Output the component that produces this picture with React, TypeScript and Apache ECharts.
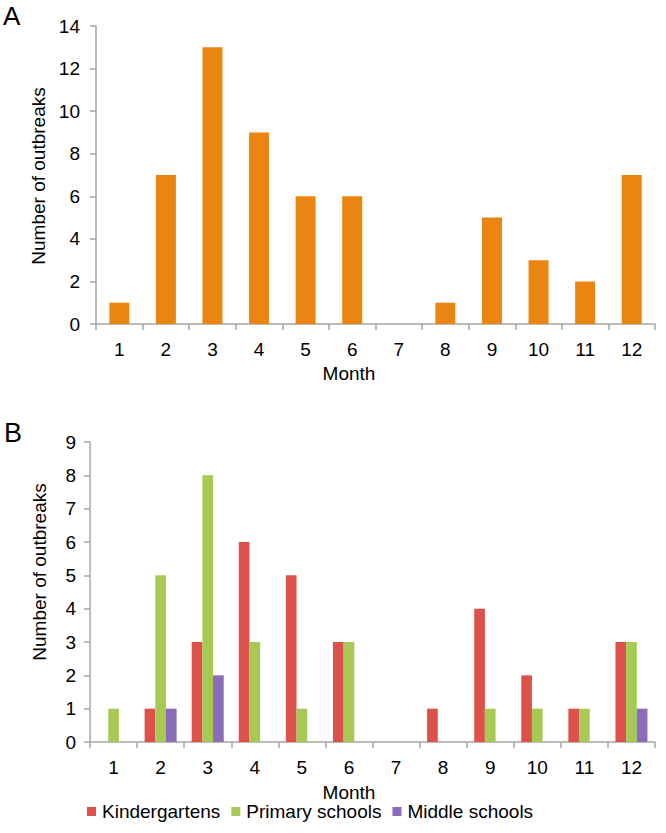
import React, { useEffect, useRef } from "react";
import * as echarts from "echarts";

const months = ["1", "2", "3", "4", "5", "6", "7", "8", "9", "10", "11", "12"];
const totalOutbreaks = [1, 7, 13, 9, 6, 6, 0, 1, 5, 3, 2, 7];
const kindergartens = [0, 1, 3, 6, 5, 3, 0, 1, 4, 2, 1, 3];
const primarySchools = [1, 5, 8, 3, 1, 3, 0, 0, 1, 1, 1, 3];
const middleSchools = [0, 1, 2, 0, 0, 0, 0, 0, 0, 0, 0, 1];
const yTitle = "Number of outbreaks";
const xTitle = "Month";

const FONT = "'Liberation Sans', Arial, sans-serif";
const AXIS_COLOR = "#A6A6A6";

export default function App() {
  const ref = useRef<HTMLDivElement>(null);
  useEffect(() => {
    if (!ref.current) return;
    const chart = echarts.init(ref.current, null, { renderer: "svg" });
    const xAxisCommon = {
      type: "category",
      data: months,
      boundaryGap: true,
      axisLine: { lineStyle: { color: AXIS_COLOR, width: 1.5 } },
      axisTick: { show: true, length: 6, lineStyle: { color: AXIS_COLOR, width: 1.5 } },
      splitLine: { show: false },
    };
    const yAxisCommon = {
      type: "value",
      min: 0,
      axisLine: { show: true, lineStyle: { color: AXIS_COLOR, width: 1.5 } },
      axisTick: { show: true, length: 6, lineStyle: { color: AXIS_COLOR, width: 1.5 } },
      splitLine: { show: false },
    };
    const textStyle = (size: number) => ({ fontFamily: FONT, fontSize: size, fill: "#000" });
    chart.setOption({
      animation: false,
      backgroundColor: "#fff",
      textStyle: { fontFamily: FONT },
      grid: [
        { left: 96, right: 11, top: 26, height: 298 },
        { left: 90, right: 11, top: 442, height: 300 },
      ],
      xAxis: [
        {
          ...xAxisCommon,
          gridIndex: 0,
          axisLabel: { fontSize: 19, color: "#000", margin: 16, fontFamily: FONT },
        },
        {
          ...xAxisCommon,
          gridIndex: 1,
          axisLabel: { fontSize: 19, color: "#000", margin: 16, fontFamily: FONT },
        },
      ],
      yAxis: [
        {
          ...yAxisCommon,
          gridIndex: 0,
          max: 14,
          interval: 2,
          axisLabel: { fontSize: 19, color: "#000", margin: 16, fontFamily: FONT },
        },
        {
          ...yAxisCommon,
          gridIndex: 1,
          max: 9,
          interval: 1,
          axisLabel: { fontSize: 19, color: "#000", margin: 14, fontFamily: FONT },
        },
      ],
      legend: {
        left: 87,
        top: 802,
        padding: 0,
        icon: "rect",
        itemWidth: 9,
        itemHeight: 9,
        itemGap: 11,
        textStyle: { fontSize: 19, color: "#000", fontFamily: FONT, padding: [0, 0, 0, 1] },
        data: ["Kindergartens", "Primary schools", "Middle schools"],
      },
      series: [
        {
          name: "All",
          type: "bar",
          xAxisIndex: 0,
          yAxisIndex: 0,
          data: totalOutbreaks,
          barWidth: 20,
          itemStyle: { color: "#EB8511" },
        },
        {
          name: "Kindergartens",
          type: "bar",
          xAxisIndex: 1,
          yAxisIndex: 1,
          data: kindergartens,
          barGap: "0%",
          barCategoryGap: "32%",
          itemStyle: { color: "#DE514B" },
        },
        {
          name: "Primary schools",
          type: "bar",
          xAxisIndex: 1,
          yAxisIndex: 1,
          data: primarySchools,
          barGap: "0%",
          barCategoryGap: "32%",
          itemStyle: { color: "#A6CA54" },
        },
        {
          name: "Middle schools",
          type: "bar",
          xAxisIndex: 1,
          yAxisIndex: 1,
          data: middleSchools,
          barGap: "0%",
          barCategoryGap: "32%",
          itemStyle: { color: "#8A6CB8" },
        },
      ],
      graphic: [
        { type: "text", left: 3, top: 3, style: { text: "A", ...textStyle(26) } },
        { type: "text", left: 4, top: 419, style: { text: "B", ...textStyle(27) } },
        {
          type: "text",
          x: 38,
          y: 176,
          rotation: Math.PI / 2,
          style: { text: yTitle, ...textStyle(19), align: "center", verticalAlign: "middle" },
        },
        {
          type: "text",
          x: 39,
          y: 572,
          rotation: Math.PI / 2,
          style: { text: yTitle, ...textStyle(19), align: "center", verticalAlign: "middle" },
        },
        {
          type: "text",
          x: 349,
          y: 373,
          style: { text: xTitle, ...textStyle(19), align: "center", verticalAlign: "middle" },
        },
        {
          type: "text",
          x: 349,
          y: 792,
          style: { text: xTitle, ...textStyle(19), align: "center", verticalAlign: "middle" },
        },
      ],
    });
    return () => chart.dispose();
  }, []);
  return (
    <div
      ref={ref}
      style={{ position: "absolute", left: 0, top: 0, width: 666, height: 833 }}
    />
  );
}
